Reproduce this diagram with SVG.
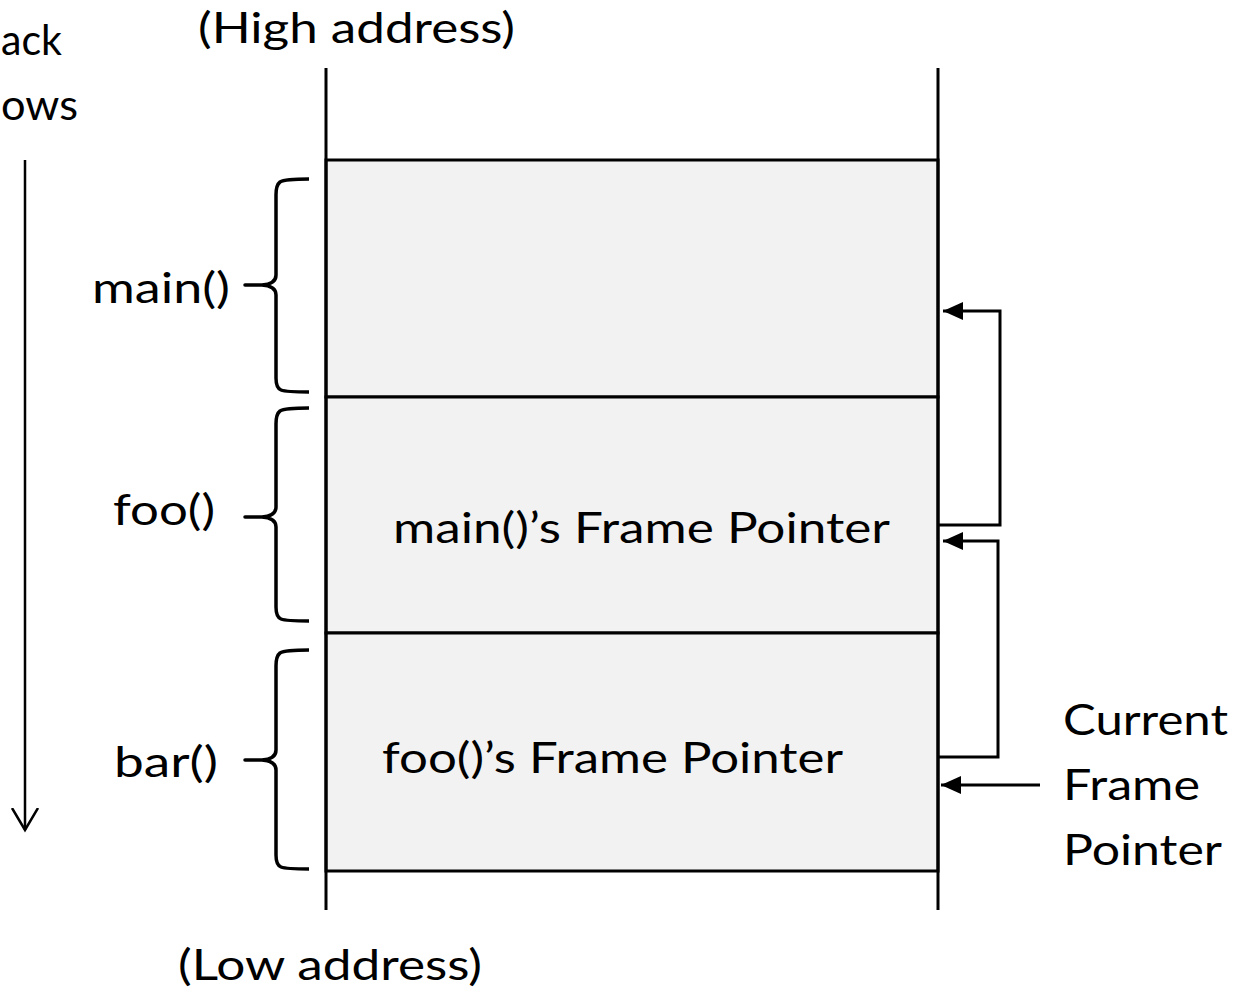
<svg xmlns="http://www.w3.org/2000/svg" width="1235" height="993" viewBox="0 0 1235 993">
<style>
text{font-family:Lato,"Open Sans","Liberation Sans",sans-serif;font-size:42px;fill:#000}
.ln{fill:none;stroke:#000;stroke-width:3}
.fr{fill:#f2f2f2;stroke:#000;stroke-width:3}
.br{fill:none;stroke:#000;stroke-width:3.5;stroke-linejoin:round}
.cn{fill:none;stroke:#000;stroke-width:3;marker-end:url(#ah)}
</style>
<defs>
<marker id="ah" markerUnits="userSpaceOnUse" markerWidth="22" markerHeight="20" refX="20" refY="9" orient="auto">
<path d="M0,0 L20,9 L0,18 Z" fill="#000"/>
</marker>
<marker id="oa" markerUnits="userSpaceOnUse" markerWidth="30" markerHeight="30" refX="22" refY="14" orient="auto">
<path d="M0,1 L22,14 L0,27" fill="none" stroke="#000" stroke-width="2.5"/>
</marker>
</defs>
<g id="stack">
<rect id="frame-main" class="fr" x="326" y="160" width="612" height="237"/>
<rect id="frame-foo" class="fr" x="326" y="397" width="612" height="236"/>
<rect id="frame-bar" class="fr" x="326" y="633" width="612" height="238"/>
<line class="ln" x1="326" y1="68" x2="326" y2="910"/>
<line class="ln" x1="938" y1="68" x2="938" y2="910"/>
<text x="393" y="543" textLength="497" lengthAdjust="spacingAndGlyphs">main()’s Frame Pointer</text>
<text x="382" y="773" textLength="461" lengthAdjust="spacingAndGlyphs">foo()’s Frame Pointer</text>
</g>
<g id="labels">
<text x="198" y="43" textLength="317" lengthAdjust="spacingAndGlyphs">(High address)</text>
<text x="178" y="980" textLength="304" lengthAdjust="spacingAndGlyphs">(Low address)</text>
<text x="1" y="55" textLength="61" lengthAdjust="spacingAndGlyphs">ack</text>
<text x="1" y="120" textLength="77" lengthAdjust="spacingAndGlyphs">ows</text>
<text x="1063" y="735" textLength="165" lengthAdjust="spacingAndGlyphs">Current</text>
<text x="1063" y="800" textLength="137" lengthAdjust="spacingAndGlyphs">Frame</text>
<text x="1063" y="865" textLength="159" lengthAdjust="spacingAndGlyphs">Pointer</text>
</g>
<g id="brace-main">
<path class="br" d="M309,179 Q285,179 280,182 Q276,185 276,195 L276,275 Q276,284 262,285 L245,285 L262,285 Q276,286 276,295 L276,378 Q276,388 281,390 Q286,392 309,392"/>
<text x="92" y="303" textLength="138" lengthAdjust="spacingAndGlyphs">main()</text>
</g>
<g id="brace-foo">
<path class="br" d="M309,408 Q285,408 280,411 Q276,414 276,424 L276,507 Q276,516 262,517 L245,517 L262,517 Q276,518 276,527 L276,607 Q276,617 281,619 Q286,621 309,621"/>
<text x="113" y="525" textLength="102" lengthAdjust="spacingAndGlyphs">foo()</text>
</g>
<g id="brace-bar">
<path class="br" d="M309,650 Q285,650 280,653 Q276,656 276,666 L276,750 Q276,759 262,760 L245,760 L262,760 Q276,761 276,770 L276,855 Q276,865 281,867 Q286,869 309,869"/>
<text x="114" y="777" textLength="104" lengthAdjust="spacingAndGlyphs">bar()</text>
</g>
<g id="connectors">
<line x1="25" y1="160" x2="25" y2="830" fill="none" stroke="#000" stroke-width="2.5" marker-end="url(#oa)"/>
<polyline class="cn" points="938,525 1000,525 1000,311 943,311"/>
<polyline class="cn" points="938,757 998,757 998,541 943,541"/>
<line class="cn" x1="1040" y1="785" x2="941" y2="785"/>
</g>
</svg>
